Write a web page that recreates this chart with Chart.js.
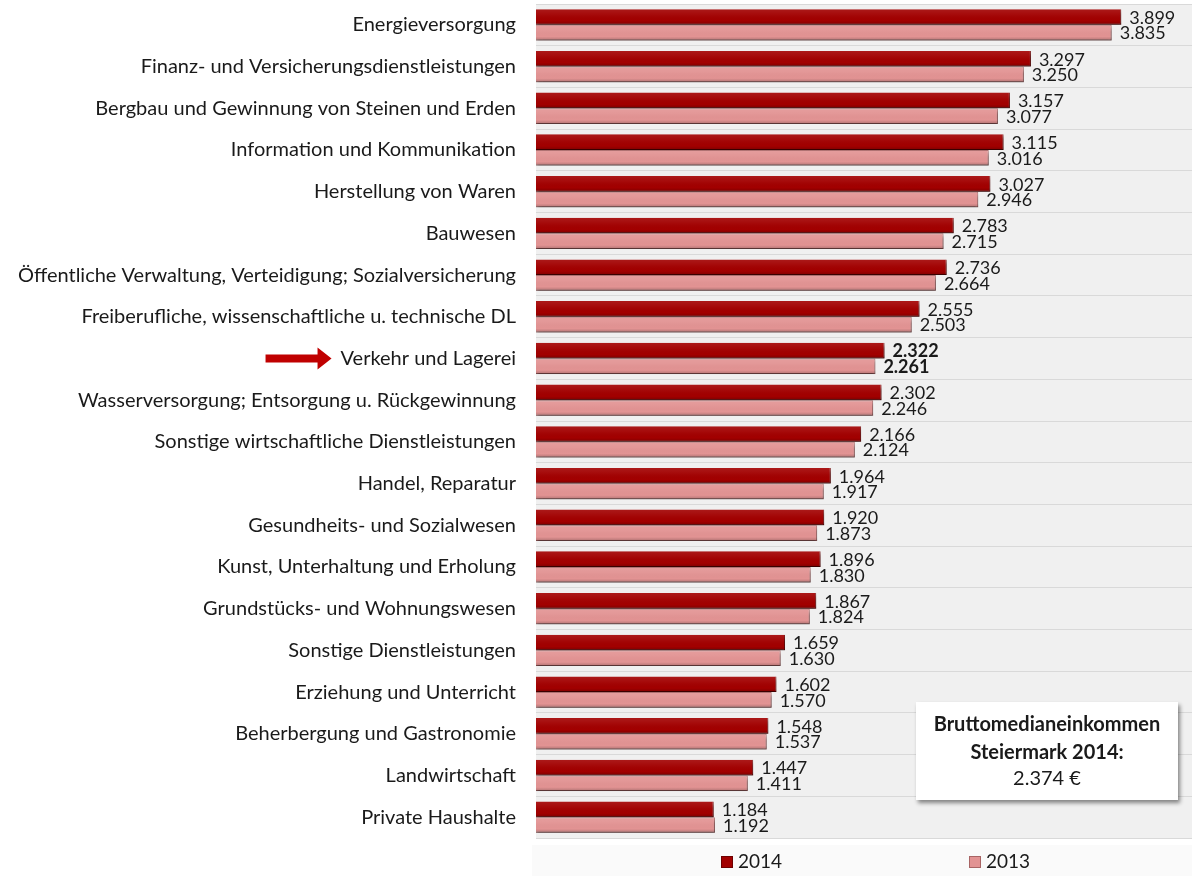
<!DOCTYPE html>
<html>
<head>
<meta charset="utf-8">
<script src="https://cdn.jsdelivr.net/npm/chart.js@4.4.1/dist/chart.umd.min.js"></script>
<style>
  html, body { margin: 0; padding: 0; background: #ffffff; }
  #wrap { width: 1192px; height: 876px; position: relative; }
</style>
</head>
<body>
<div id="wrap"><canvas id="c" width="1192" height="876"></canvas></div>
<script>
const categories = [
  "Energieversorgung",
  "Finanz- und Versicherungsdienstleistungen",
  "Bergbau und Gewinnung von Steinen und Erden",
  "Information und Kommunikation",
  "Herstellung von Waren",
  "Bauwesen",
  "Öffentliche Verwaltung, Verteidigung; Sozialversicherung",
  "Freiberufliche, wissenschaftliche u. technische DL",
  "Verkehr und Lagerei",
  "Wasserversorgung; Entsorgung u. Rückgewinnung",
  "Sonstige wirtschaftliche Dienstleistungen",
  "Handel, Reparatur",
  "Gesundheits- und Sozialwesen",
  "Kunst, Unterhaltung und Erholung",
  "Grundstücks- und Wohnungswesen",
  "Sonstige Dienstleistungen",
  "Erziehung und Unterricht",
  "Beherbergung und Gastronomie",
  "Landwirtschaft",
  "Private Haushalte"
];
const values2014 = [3899, 3297, 3157, 3115, 3027, 2783, 2736, 2555, 2322, 2302, 2166, 1964, 1920, 1896, 1867, 1659, 1602, 1548, 1447, 1184];
const values2013 = [3835, 3250, 3077, 3016, 2946, 2715, 2664, 2503, 2261, 2246, 2124, 1917, 1873, 1830, 1824, 1630, 1570, 1537, 1411, 1192];
const seriesNames = ["2014", "2013"];
const highlightCategory = "Verkehr und Lagerei";
const infoLines = ["Bruttomedianeinkommen", "Steiermark 2014:", "2.374 €"];

const FONT = "Lato, 'Open Sans', sans-serif";
const LABEL_SIZE = 20;
const fmt = v => v.toLocaleString('de-DE');

const plotBg = {
  id: 'plotBg',
  beforeDraw(chart) {
    const { ctx, chartArea: a } = chart;
    ctx.save();
    ctx.fillStyle = '#f0f0f0';
    ctx.fillRect(a.left, a.top, a.right - a.left, a.bottom - a.top);
    ctx.fillStyle = '#fafafa';
    ctx.fillRect(a.left - 4, a.bottom + 7, a.right - a.left + 4, chart.height - a.bottom - 7);
    ctx.restore();
  }
};

const barShadow = {
  id: 'barShadow',
  beforeDatasetDraw(chart) {
    const ctx = chart.ctx;
    ctx.save();
    ctx.shadowColor = 'rgba(0,0,0,0.38)';
    ctx.shadowOffsetX = 1;
    ctx.shadowOffsetY = 3;
    ctx.shadowBlur = 3;
  },
  afterDatasetDraw(chart, args) {
    const ctx = chart.ctx;
    ctx.restore();
    const meta = args.meta;
    meta.data.forEach(bar => {
      const top = bar.y - bar.height / 2;
      const g = ctx.createLinearGradient(0, top, 0, top + bar.height);
      g.addColorStop(0, 'rgba(255,255,255,0.10)');
      g.addColorStop(0.35, 'rgba(255,255,255,0.04)');
      g.addColorStop(0.75, 'rgba(0,0,0,0.0)');
      g.addColorStop(1, 'rgba(0,0,0,0.22)');
      ctx.save();
      ctx.fillStyle = g;
      ctx.fillRect(bar.base, top, bar.x - bar.base, bar.height);
      ctx.restore();
    });
  }
};

const valueLabels = {
  id: 'valueLabels',
  afterDatasetsDraw(chart) {
    const ctx = chart.ctx;
    ctx.save();
    ctx.fillStyle = '#1a1a1a';
    ctx.textBaseline = 'middle';
    ctx.textAlign = 'left';
    chart.data.datasets.forEach((ds, di) => {
      const meta = chart.getDatasetMeta(di);
      meta.data.forEach((bar, i) => {
        const bold = chart.data.labels[i] === highlightCategory;
        ctx.font = (bold ? 'bold ' : '') + '18px ' + FONT;
        ctx.fillText(fmt(ds.data[i]), bar.x + 8, bar.y + 1);
      });
    });
    ctx.restore();
  }
};

const extras = {
  id: 'extras',
  afterDraw(chart) {
    const ctx = chart.ctx;
    const ys = chart.scales.y;
    const idx = chart.data.labels.indexOf(highlightCategory);
    const cy = ys.getPixelForValue(idx);
    ctx.save();
    ctx.font = LABEL_SIZE + 'px ' + FONT;
    const w = ctx.measureText(highlightCategory).width;
    const tipX = ys.right - 20 - w - 9;
    ctx.fillStyle = '#c00000';
    ctx.beginPath();
    ctx.moveTo(tipX - 66, cy - 4);
    ctx.lineTo(tipX - 14, cy - 4);
    ctx.lineTo(tipX - 14, cy - 11);
    ctx.lineTo(tipX, cy);
    ctx.lineTo(tipX - 14, cy + 11);
    ctx.lineTo(tipX - 14, cy + 4);
    ctx.lineTo(tipX - 66, cy + 4);
    ctx.closePath();
    ctx.fill();
    ctx.restore();

    // Info box
    const bx = 916, by = 702, bw = 262, bh = 98;
    ctx.save();
    ctx.shadowColor = 'rgba(0,0,0,0.45)';
    ctx.shadowOffsetX = 2;
    ctx.shadowOffsetY = 3;
    ctx.shadowBlur = 4;
    ctx.fillStyle = '#ffffff';
    ctx.fillRect(bx, by, bw, bh);
    ctx.restore();
    ctx.save();
    ctx.fillStyle = '#1a1a1a';
    ctx.textAlign = 'center';
    ctx.textBaseline = 'middle';
    ctx.font = 'bold 20px ' + FONT;
    ctx.fillText(infoLines[0], bx + bw / 2, by + 23);
    ctx.fillText(infoLines[1], bx + bw / 2, by + 51);
    ctx.font = '20px ' + FONT;
    ctx.fillText(infoLines[2], bx + bw / 2, by + 77);
    ctx.restore();

    // Legend
    const legendItems = [
      { x: 721, ds: 0 },
      { x: 969, ds: 1 }
    ];
    ctx.save();
    ctx.textBaseline = 'middle';
    ctx.textAlign = 'left';
    ctx.font = '19px ' + FONT;
    legendItems.forEach(it => {
      const ds = chart.data.datasets[it.ds];
      ctx.fillStyle = ds.backgroundColor;
      ctx.fillRect(it.x, 856, 12, 12);
      ctx.strokeStyle = ds.borderColor;
      ctx.lineWidth = 1;
      ctx.strokeRect(it.x + 0.5, 856.5, 11, 11);
      ctx.fillStyle = '#1a1a1a';
      ctx.fillText(ds.label, it.x + 17, 862);
    });
    ctx.restore();
  }
};

new Chart(document.getElementById('c'), {
  type: 'bar',
  data: {
    labels: categories,
    datasets: [
      { label: seriesNames[0], data: values2014, backgroundColor: '#a20000', borderColor: '#6e0000', borderWidth: { bottom: 1, right: 1, top: 0, left: 0 } },
      { label: seriesNames[1], data: values2013, backgroundColor: '#e29393', borderColor: '#a86464', borderWidth: { bottom: 1, right: 1, top: 1, left: 0 } }
    ]
  },
  options: {
    indexAxis: 'y',
    responsive: false,
    animation: false,
    devicePixelRatio: 1,
    layout: { padding: { top: 4, bottom: 38, left: 0, right: 0 } },
    datasets: { bar: { categoryPercentage: 0.75, barPercentage: 1 } },
    scales: {
      x: { display: false, min: 0, max: 4370 },
      y: {
        grid: { color: '#d9d9d9', drawTicks: false, offset: true },
        border: { display: false },
        ticks: { color: '#1a1a1a', padding: 20, font: { family: FONT, size: LABEL_SIZE } },
        afterFit(scale) { scale.width = 536; scale.paddingTop = 0; scale.paddingBottom = 0; }
      }
    },
    plugins: {
      legend: { display: false },
      tooltip: { enabled: false }
    }
  },
  plugins: [plotBg, barShadow, valueLabels, extras]
});
</script>
</body>
</html>
